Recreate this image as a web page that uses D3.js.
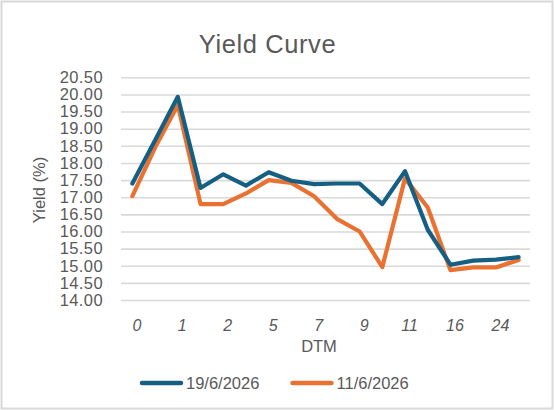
<!DOCTYPE html>
<html>
<head>
<meta charset="utf-8">
<script src="https://cdn.jsdelivr.net/npm/d3@7"></script>
<style>
  body { margin: 0; background: #fff; }
  svg { display: block; font-family: "Liberation Sans", Arial, sans-serif; }
</style>
</head>
<body>
<div id="chart"></div>
<script>
    // 18 maturities, only every second one gets a tick label
    var categories = ["0", "0b", "1", "1b", "2", "2b", "5", "5b", "7", "7b", "9", "9b", "11", "11b", "16", "16b", "24", "24b"]
    var tickLabels = ["0", "1", "2", "5", "7", "9", "11", "16", "24"]
    var yTicks = [14, 14.5, 15, 15.5, 16, 16.5, 17, 17.5, 18, 18.5, 19, 19.5, 20, 20.5]

    var seriesNames = ["19/6/2026", "11/6/2026"]
    var seriesColors = ["#156082", "#E97132"]
    var yield19 = [17.40, 18.66, 19.93, 17.27, 17.67, 17.34, 17.73, 17.48, 17.38, 17.40, 17.40, 16.80, 17.76, 16.05, 15.03, 15.15, 15.18, 15.25]
    var yield11 = [17.03, 18.45, 19.69, 16.80, 16.80, 17.11, 17.50, 17.42, 17.03, 16.37, 16.00, 14.96, 17.55, 16.70, 14.87, 14.95, 14.95, 15.17]

    var width = 554, height = 410
    var plotLeft = 121, plotRight = 530, plotTop = 77.3, plotBottom = 300

    var svg = d3.select("#chart").append("svg")
        .attr("width", width)
        .attr("height", height)

    // outer frame
    svg.append("rect")
        .attr("x", 1.5).attr("y", 1.5)
        .attr("width", width - 3).attr("height", height - 3)
        .attr("fill", "#fff")
        .attr("stroke", "#d9d9d9")
        .attr("stroke-width", 2)

    var x = d3.scalePoint().domain(categories).range([plotLeft, plotRight]).padding(0.5)
    var y = d3.scaleLinear().domain([14, 20.5]).range([plotBottom, plotTop])

    // gridlines + y labels
    var yAxis = svg.append("g")
        .attr("transform", `translate(${plotLeft},0)`)
        .call(d3.axisLeft(y).tickValues(yTicks).tickSize(-(plotRight - plotLeft)).tickPadding(18).tickFormat(d3.format(".2f")))
    yAxis.select(".domain").remove()
    yAxis.selectAll(".tick line").attr("stroke", "#d9d9d9").attr("stroke-width", 1.6)
    yAxis.selectAll(".tick text")
        .attr("fill", "#595959")
        .attr("font-size", "16.5px")
        .attr("font-family", "Liberation Sans, Arial, sans-serif")
        .attr("letter-spacing", "0.4px")

    // x labels, every second category
    var xAxis = svg.append("g")
        .attr("transform", `translate(0,${plotBottom})`)
        .call(d3.axisBottom(x)
            .tickValues(categories.filter((d, i) => i % 2 == 0))
            .tickSize(0).tickPadding(20)
            .tickFormat((d, i) => tickLabels[i]))
    xAxis.select(".domain").remove()
    xAxis.selectAll(".tick text")
        .attr("fill", "#595959")
        .attr("font-size", "16px")
        .attr("font-style", "italic")
        .attr("font-family", "Liberation Sans, Arial, sans-serif")
        .attr("dx", 4)

    var line = d3.line()
        .x((d, i) => x(categories[i]))
        .y(d => y(d))

    // orange drawn first so blue sits on top where they overlap
    ;[yield11, yield19].forEach((vals, k) => {
        svg.append("path")
            .datum(vals)
            .attr("fill", "none")
            .attr("stroke", seriesColors[1 - k])
            .attr("stroke-width", 4.2)
            .attr("stroke-linejoin", "round")
            .attr("stroke-linecap", "round")
            .attr("d", line)
    })

    // titles
    svg.append("text")
        .attr("x", 267.5).attr("y", 52.5)
        .attr("text-anchor", "middle")
        .attr("fill", "#595959")
        .attr("font-size", "25.5px")
        .attr("letter-spacing", "0.6px")
        .text("Yield Curve")

    svg.append("text")
        .attr("transform", "translate(45,190) rotate(-90)")
        .attr("text-anchor", "middle")
        .attr("fill", "#595959")
        .attr("font-size", "16.5px")
        .text("Yield (%)")

    svg.append("text")
        .attr("x", 319).attr("y", 352)
        .attr("text-anchor", "middle")
        .attr("fill", "#595959")
        .attr("font-size", "16.5px")
        .text("DTM")

    // legend
    var legend = svg.append("g")
    var legendX = [140, 290.5]
    seriesNames.forEach((name, i) => {
        legend.append("line")
            .attr("x1", legendX[i] + 2).attr("x2", legendX[i] + 41)
            .attr("y1", 383).attr("y2", 383)
            .attr("stroke", seriesColors[i])
            .attr("stroke-width", 4.5)
            .attr("stroke-linecap", "round")
        legend.append("text")
            .attr("x", legendX[i] + 46).attr("y", 389)
            .attr("fill", "#595959")
            .attr("font-size", "16.5px")
            .text(name)
    })
</script>
</body>
</html>
